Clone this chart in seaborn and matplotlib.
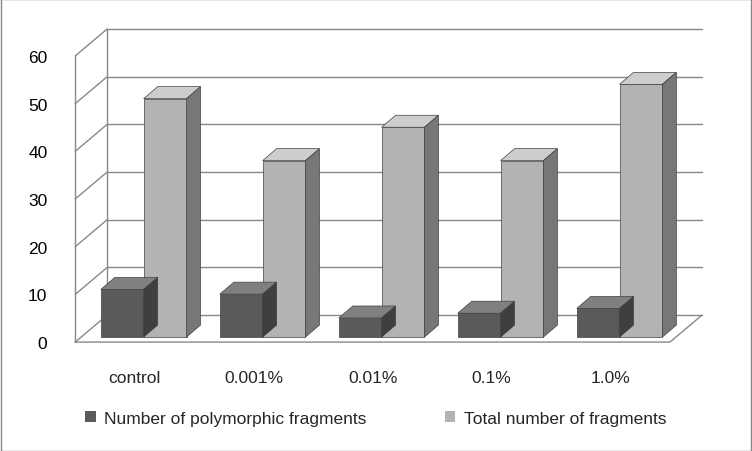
import matplotlib
matplotlib.use("Agg")
import matplotlib.pyplot as plt
import matplotlib.transforms as mtransforms
from matplotlib.patches import Polygon, Rectangle, Patch
import seaborn as sns
import pandas as pd

categories = ["control", "0.001%", "0.01%", "0.1%", "1.0%"]
polymorphic = [10, 9, 4, 5, 6]
total = [50, 37, 44, 37, 53]
series = ["Number of polymorphic fragments", "Total number of fragments"]

df = pd.DataFrame({
    "cat": categories * 2,
    "val": polymorphic + total,
    "series": [series[0]] * 5 + [series[1]] * 5,
})

sns.set_theme(style="white")
plt.rcParams['font.family'] = ['Liberation Sans', 'DejaVu Sans']
fig = plt.figure(figsize=(7.52, 4.52), dpi=100)
ax = fig.add_axes([0.1, 0.241, 0.791, 0.633])
front = {series[0]: "#5a5a5a", series[1]: "#b3b3b3"}
tops = {series[0]: "#808080", series[1]: "#cdcdcd"}
sides = {series[0]: "#3f3f3f", series[1]: "#777777"}
sns.barplot(data=df, x="cat", y="val", hue="series", palette=front,
            width=0.72, ax=ax, legend=False, zorder=3, saturation=1)
ax.set_ylim(0, 60)
ax.set_xlim(-0.5, 4.5)
ax.set_yticks(range(0, 61, 10))
ax.tick_params(axis="y", labelsize=12.5, colors="#000000", pad=14)
ax.tick_params(axis="x", labelsize=12.5, pad=14)
ax.set_xlabel(""); ax.set_ylabel("")
for s in ax.spines.values():
    s.set_visible(False)

fig.canvas.draw()
WX, WY = 32, 27
gc = "#888888"
def line(xs, ys, z=1):
    ax.add_line(plt.Line2D(xs, ys, transform=None, color=gc, lw=1, zorder=z, clip_on=False))

for v in range(0, 61, 10):
    p0 = ax.transData.transform((-0.5, v)); p1 = ax.transData.transform((4.5, v))
    line([p0[0] + WX, p1[0] + WX], [p0[1] + WY, p1[1] + WY])
    line([p0[0], p0[0] + WX], [p0[1], p0[1] + WY])
pa = ax.transData.transform((-0.5, 0)); pb = ax.transData.transform((-0.5, 60))
line([pa[0], pb[0]], [pa[1], pb[1]])
line([pa[0] + WX, pb[0] + WX], [pa[1] + WY, pb[1] + WY])
pc = ax.transData.transform((4.5, 0))
line([pa[0], pc[0], pc[0] + WX], [pa[1], pc[1], pc[1] + WY], z=2)

# bars sit a little inside the depth
BX, BY = 9, 5
dx, dy = 14, 12
order = [series[0]] * 5 + [series[1]] * 5
boff = mtransforms.offset_copy(ax.transData, fig=fig, x=BX, y=BY, units="dots")
for patch, ser in zip(ax.patches, order):
    x0, y0 = patch.get_x(), patch.get_y()
    w, h = patch.get_width(), patch.get_height()
    patch.set_transform(boff); patch.set_clip_on(False)
    bl = ax.transData.transform((x0, y0)) + (BX, BY)
    tr = ax.transData.transform((x0 + w, y0 + h)) + (BX, BY)
    top = Polygon([(bl[0], tr[1]), (tr[0], tr[1]), (tr[0] + dx, tr[1] + dy), (bl[0] + dx, tr[1] + dy)],
                  transform=None, facecolor=tops[ser], edgecolor="#404040", lw=0.5, zorder=4, clip_on=False)
    side = Polygon([(tr[0], bl[1]), (tr[0] + dx, bl[1] + dy), (tr[0] + dx, tr[1] + dy), (tr[0], tr[1])],
                   transform=None, facecolor=sides[ser], edgecolor="#404040", lw=0.5, zorder=4, clip_on=False)
    ax.add_patch(top); ax.add_patch(side)
    patch.set_edgecolor("#404040"); patch.set_linewidth(0.5)

handles = [Patch(facecolor=front[s], edgecolor="none") for s in series]
fig.legend(handles, series, loc="center", bbox_to_anchor=(0.5, 0.072), ncol=2, frameon=False,
           fontsize=12.5, handlelength=0.6, handleheight=0.6, columnspacing=4.5, handletextpad=0.5)
fig.add_artist(Rectangle((0.001, 0.001), 0.998, 0.998, transform=fig.transFigure,
                         fill=False, edgecolor="#888888", lw=1))
fig.savefig("out.png", dpi=100)
